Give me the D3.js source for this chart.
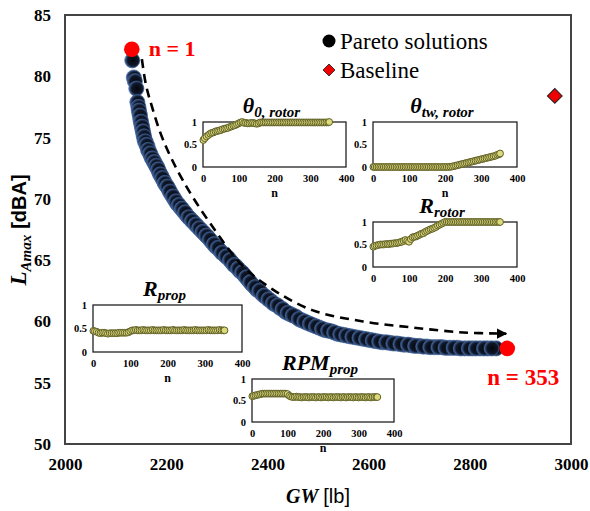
<!DOCTYPE html>
<html><head><meta charset="utf-8">
<script src="https://cdn.jsdelivr.net/npm/d3@7/dist/d3.min.js"></script>
<style>
body{margin:0;background:#fff;}
svg{display:block;}
</style></head>
<body><svg id="c" width="590" height="511"></svg>
<script>
// ---------- main data ----------
const xTicks = [2000, 2200, 2400, 2600, 2800, 3000];
const yTicks = [50, 55, 60, 65, 70, 75, 80, 85];
const paretoGW = [2133,2136,2138,2141,2143,2145,2147,2149,2151,2153,2155,2157,2160,2163,2166,2170,2174,2178,2182,2186,2190,2195,2200,2205,2210,2216,2222,2228,2234,2240,2247,2254,2261,2268,2275,2282,2290,2298,2306,2314,2322,2330,2338,2346,2354,2362,2370,2379,2388,2397,2406,2415,2425,2435,2445,2456,2467,2478,2490,2502,2514,2526,2538,2550,2562,2575,2588,2601,2614,2628,2642,2656,2670,2685,2700,2715,2730,2745,2760,2775,2790,2805,2820,2835,2852,
  2146,2148,2150,2152,2154,2156,2158,2161,2164,2168,2172,2176,2180,2184,2188,2192,2197,2202,2207,2213,2219,2225,2231,2237,2244,2251,2258,2265,2272,2279,2286,2294,2302,2310,2318,2326,2334,2342,2350,2358,2366,2375,2384,2393,2402,2411,2420,2430,2440,2450,2462,2473,2484,2496,2508,2520,2532,2544,2556,2568,2582,2595,2608,2621,2635,2649,2663,2678,2692,2708,2722,2738,2752,2768,2782,2798,2812,2828,2843];
const paretoL = [81.3,79.9,79.6,79.0,77.9,77.5,77.0,76.5,76.1,75.7,75.3,74.9,74.6,74.3,73.9,73.5,73.2,72.9,72.6,72.2,71.9,71.5,71.1,70.8,70.4,70.0,69.6,69.3,69.0,68.7,68.4,68.1,67.8,67.5,67.2,66.9,66.5,66.1,65.8,65.5,65.2,64.8,64.5,64.1,63.8,63.4,63.0,62.6,62.3,62.0,61.7,61.4,61.1,60.8,60.6,60.4,60.1,59.9,59.7,59.5,59.3,59.2,59.0,58.9,58.8,58.7,58.6,58.5,58.4,58.3,58.25,58.2,58.1,58.05,58.0,57.95,57.9,57.9,57.85,57.85,57.8,57.8,57.8,57.8,57.8,
  77.2,76.8,76.3,75.9,75.5,75.1,74.7,74.4,74.0,73.7,73.3,73.0,72.7,72.4,72.0,71.7,71.3,71.0,70.6,70.2,69.8,69.5,69.2,68.9,68.5,68.2,67.9,67.6,67.3,67.0,66.7,66.3,66.0,65.6,65.3,65.0,64.6,64.3,64.0,63.6,63.2,62.8,62.5,62.1,61.8,61.5,61.3,61.0,60.7,60.5,60.2,60.0,59.8,59.6,59.4,59.25,59.1,58.95,58.85,58.75,58.65,58.55,58.45,58.35,58.3,58.2,58.15,58.1,58.0,57.95,57.9,57.9,57.85,57.85,57.8,57.8,57.8,57.8,57.8];
const endpointGW = [2132, 2874];
const endpointL = [82.2, 57.8];
const endpointLabels = ["n = 1", "n = 353"];
const baselineGW = [2968];
const baselineL = [78.4];
const legendLabels = ["Pareto solutions", "Baseline"];
// dashed trend arrow (data units)
const arrowGW = [2152, 2160, 2172, 2194, 2233, 2287, 2352, 2411, 2490, 2589, 2688, 2787, 2872];
const arrowL  = [81.4, 79.3, 77.5, 74.8, 71.5, 68.0, 64.5, 62.6, 60.9, 60.0, 59.5, 59.1, 59.0];

// ---------- inset data ----------
const insetN = [1,5,10,15,20,25,30,35,40,45,50,55,60,65,70,75,80,85,90,95,100,105,110,115,120,125,130,135,140,145,150,155,160,165,170,175,180,185,190,195,200,205,210,215,220,225,230,235,240,245,250,255,260,265,270,275,280,285,290,295,300,305,310,315,320,325,330,335,340,345,350,353];
const theta0Rotor = [0.60,0.64,0.68,0.71,0.74,0.76,0.77,0.79,0.80,0.81,0.82,0.84,0.85,0.86,0.87,0.89,0.90,0.92,0.93,0.95,0.97,0.99,1.00,0.98,0.98,0.97,0.97,0.98,0.98,0.97,0.96,0.97,0.99,0.99,0.99,0.99,0.99,0.99,0.99,0.99,0.99,0.99,0.99,0.99,0.99,0.99,0.99,0.99,0.99,0.99,0.99,0.99,0.99,0.99,0.99,0.99,0.99,0.99,0.99,0.99,0.99,0.99,0.99,0.99,0.99,0.99,0.99,0.99,0.99,0.99,0.99,1.00];
const thetaTwRotor = [0,0,0,0,0,0,0,0,0,0,0,0,0,0,0,0,0,0,0,0,0,0,0,0,0,0,0,0,0,0,0,0,0,0,0,0,0,0,0,0,0,0,0,0.005,0.01,0.02,0.03,0.04,0.05,0.06,0.07,0.08,0.09,0.10,0.11,0.12,0.13,0.14,0.15,0.16,0.17,0.18,0.19,0.20,0.21,0.22,0.23,0.24,0.25,0.27,0.28,0.30];
const rRotor = [0.45,0.47,0.48,0.49,0.50,0.50,0.50,0.51,0.51,0.51,0.52,0.52,0.53,0.53,0.54,0.55,0.56,0.58,0.60,0.58,0.56,0.62,0.66,0.67,0.68,0.70,0.72,0.74,0.75,0.78,0.80,0.82,0.84,0.85,0.87,0.89,0.92,0.94,0.96,0.98,1.0,1.0,1.0,1.0,1.0,1.0,1.0,1.0,1.0,1.0,1.0,1.0,1.0,1.0,1.0,1.0,1.0,1.0,1.0,1.0,1.0,1.0,1.0,1.0,1.0,1.0,1.0,1.0,1.0,1.0,1.0,1.0];
const rProp = [0.45,0.44,0.43,0.41,0.40,0.41,0.41,0.40,0.39,0.40,0.40,0.40,0.40,0.40,0.41,0.41,0.41,0.41,0.41,0.42,0.44,0.46,0.46,0.47,0.46,0.46,0.46,0.47,0.46,0.46,0.46,0.46,0.47,0.46,0.46,0.46,0.46,0.46,0.47,0.46,0.46,0.46,0.46,0.47,0.46,0.46,0.46,0.46,0.46,0.47,0.46,0.46,0.46,0.46,0.46,0.47,0.46,0.46,0.46,0.46,0.46,0.46,0.47,0.46,0.46,0.46,0.46,0.46,0.47,0.46,0.46,0.46];
const rpmProp = [0.60,0.61,0.62,0.63,0.64,0.65,0.66,0.66,0.66,0.66,0.66,0.66,0.66,0.66,0.66,0.66,0.66,0.66,0.66,0.66,0.65,0.61,0.59,0.58,0.58,0.59,0.58,0.58,0.57,0.58,0.58,0.58,0.57,0.58,0.58,0.58,0.57,0.58,0.58,0.57,0.58,0.58,0.58,0.57,0.58,0.58,0.57,0.58,0.58,0.58,0.57,0.58,0.58,0.57,0.58,0.58,0.58,0.57,0.58,0.58,0.57,0.58,0.58,0.58,0.57,0.58,0.58,0.57,0.58,0.58,0.58,0.58];
const insetXTicks = [0, 100, 200, 300, 400];
const insetYTicks = [0, 0.5, 1];

// ---------- drawing ----------
const SERIF = '"Liberation Serif", "Times New Roman", serif';
const SANS = '"Liberation Sans", Arial, sans-serif';
const svg = d3.select("#c");
const L = 65, R = 571, T = 15, B = 444;
const x = d3.scaleLinear().domain([2000, 3000]).range([L, R]);
const y = d3.scaleLinear().domain([50, 85]).range([B, T]);

const defs = svg.append("defs");
const g = defs.append("radialGradient").attr("id","pg").attr("cx","55%").attr("cy","50%").attr("r","55%");
g.append("stop").attr("offset","0%").attr("stop-color","#04060b");
g.append("stop").attr("offset","65%").attr("stop-color","#0f1729");
g.append("stop").attr("offset","100%").attr("stop-color","#4a6fa8");

// frame
svg.append("rect").attr("x", L).attr("y", T).attr("width", R - L).attr("height", B - T)
  .attr("fill", "none").attr("stroke", "#444").attr("stroke-width", 2);

function styleTicks(sel, size) {
  sel.select(".domain").remove();
  sel.attr("font-family", null).attr("font-size", null);
  sel.selectAll("text").style("font-family", SERIF).style("font-weight", "bold")
    .style("font-size", size + "px").attr("fill", "#000");
}
// axes (labels only)
const xa = svg.append("g").attr("transform", `translate(0,${B})`)
  .call(d3.axisBottom(x).tickValues(xTicks).tickSize(0).tickPadding(14).tickFormat(d3.format("d")));
styleTicks(xa, 17);
const ya = svg.append("g").attr("transform", `translate(${L},0)`)
  .call(d3.axisLeft(y).tickValues(yTicks).tickSize(0).tickPadding(14));
styleTicks(ya, 17);

// axis titles
const xt = svg.append("text").attr("x", 318).attr("y", 503).attr("text-anchor", "middle").style("font-size", "20px");
xt.append("tspan").style("font-family", SERIF).style("font-style","italic").style("font-weight","bold").text("GW");
xt.append("tspan").style("font-family", SANS).attr("dx", 5).text("[lb]");
const yt = svg.append("text").attr("transform", "translate(26,230) rotate(-90)").attr("text-anchor","middle").style("font-size", "20px");
yt.append("tspan").style("font-family", SERIF).style("font-style","italic").style("font-weight","bold").style("font-size", "23px").text("L");
yt.append("tspan").style("font-family", SERIF).style("font-style","italic").style("font-weight","bold").style("font-size", "15px").attr("dy", 5).text("Amax");
yt.append("tspan").style("font-family", SANS).style("font-weight","bold").attr("dy", -5).attr("dx", 6).text("[dBA]");

// ---------- insets ----------
function inset(box, vals, titleMain, titleSub, showN) {
  const ix = d3.scaleLinear().domain([0, 400]).range([box.l, box.r]);
  const iy = d3.scaleLinear().domain([0, 1]).range([box.b, box.t]);
  const gi = svg.append("g");
  const tt = gi.append("text").attr("x", (box.l + box.r) / 2 - 3).attr("y", box.t - 9)
    .attr("text-anchor", "middle").style("font-family", SERIF).style("font-weight", "bold").style("font-style", "italic").style("font-size", "22px");
  tt.append("tspan").text(titleMain);
  tt.append("tspan").style("font-size", "15px").attr("dy", 4).text(titleSub);
  gi.append("rect").attr("x", box.l).attr("y", box.t).attr("width", box.r - box.l).attr("height", box.b - box.t)
    .attr("fill", "#fff").attr("stroke", "#222").attr("stroke-width", 1.3);
  const ax = gi.append("g").attr("transform", `translate(0,${box.b})`)
    .call(d3.axisBottom(ix).tickValues(insetXTicks).tickSize(0).tickPadding(8));
  styleTicks(ax, 10.5);
  const ay = gi.append("g").attr("transform", `translate(${box.l},0)`)
    .call(d3.axisLeft(iy).tickValues(insetYTicks).tickSize(0).tickPadding(6).tickFormat(d => d === 0.5 ? "0.5" : d));
  styleTicks(ay, 10.5);
  if (showN) {
    gi.append("text").attr("x", ix(200)).attr("y", box.b + 30).attr("text-anchor","middle")
      .style("font-family", SERIF).style("font-weight","bold").style("font-size", "12px").text("n");
  }
  gi.append("g").selectAll("circle").data(insetN.map((n, i) => [n, vals[i]])).join("circle")
    .attr("cx", d => ix(d[0])).attr("cy", d => iy(d[1])).attr("r", 3.4)
    .attr("fill", "#dcd97a").attr("stroke", "#5f5f28").attr("stroke-width", 1);
}
inset({l:203, r:346, t:122, b:167}, theta0Rotor, "θ", "0, rotor", true);
inset({l:373, r:517, t:122, b:167}, thetaTwRotor, "θ", "tw, rotor", true);
inset({l:373, r:517, t:222, b:267}, rRotor, "R", "rotor", false);
inset({l:93, r:242, t:305, b:352}, rProp, "R", "prop", true);
inset({l:252, r:394, t:379, b:422}, rpmProp, "RPM", "prop", true);

// ---------- pareto points ----------
const pts = paretoGW.map((d, i) => [d, paretoL[i]]);
svg.append("g").selectAll("circle").data(pts).join("circle")
  .attr("cx", d => x(d[0])).attr("cy", d => y(d[1])).attr("r", 7.6)
  .attr("fill", "url(#pg)").attr("stroke", "#3b5d93").attr("stroke-width", 0.6);

// dashed arrow
defs.append("marker").attr("id","ah").attr("viewBox","0 0 10 10").attr("refX", 9).attr("refY", 5)
  .attr("markerWidth", 4).attr("markerHeight", 4).attr("orient","auto")
  .append("path").attr("d","M0,0L10,5L0,10Z").attr("fill","#000");
const line = d3.line().x(d => x(d[0])).y(d => y(d[1])).curve(d3.curveCatmullRom);
svg.append("path").datum(arrowGW.map((d, i) => [d, arrowL[i]])).attr("d", line)
  .attr("fill","none").attr("stroke","#000").attr("stroke-width", 2.6).attr("stroke-dasharray","9,6")
  .attr("marker-end","url(#ah)");

// endpoints
svg.append("g").selectAll("circle").data(endpointGW.map((d, i) => [d, endpointL[i]])).join("circle")
  .attr("cx", d => x(d[0])).attr("cy", d => y(d[1])).attr("r", 7.8).attr("fill", "#ff0000");
svg.append("text").attr("x", x(endpointGW[0]) + 17).attr("y", y(endpointL[0]) + 7)
  .style("font-family", SERIF).style("font-weight","bold").style("font-size", "22px").attr("fill","#ff0000").text(endpointLabels[0]);
svg.append("text").attr("x", x(endpointGW[1]) - 20).attr("y", y(endpointL[1]) + 37)
  .style("font-family", SERIF).style("font-weight","bold").style("font-size", "23px").attr("fill","#ff0000").text(endpointLabels[1]);

// baseline
svg.append("g").selectAll("path").data(baselineGW.map((d, i) => [d, baselineL[i]])).join("path")
  .attr("transform", d => `translate(${x(d[0])},${y(d[1])}) rotate(45)`)
  .attr("d", d3.symbol().type(d3.symbolSquare).size(110))
  .attr("fill","#ee0000").attr("stroke","#222").attr("stroke-width", 1);

// legend
svg.append("circle").attr("cx", 329).attr("cy", 41).attr("r", 6.5).attr("fill", "#000");
svg.append("text").attr("x", 340).attr("y", 49).style("font-family", SERIF).style("font-size", "23px").text(legendLabels[0]);
svg.append("path").attr("transform","translate(329,70) rotate(45)").attr("d", d3.symbol().type(d3.symbolSquare).size(72))
  .attr("fill","#ee0000").attr("stroke","#222").attr("stroke-width", 0.8);
svg.append("text").attr("x", 340).attr("y", 78).style("font-family", SERIF).style("font-size", "23px").text(legendLabels[1]);
</script>
</body></html>
